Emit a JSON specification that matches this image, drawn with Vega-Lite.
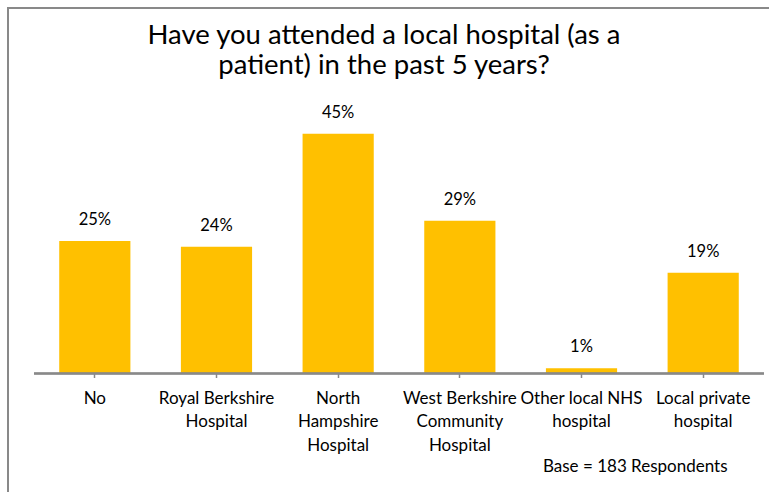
{
  "$schema": "https://vega.github.io/schema/vega-lite/v6.json",
  "width": 782,
  "height": 486,
  "autosize": {"type": "none"},
  "padding": {"left": 8, "top": 8, "right": 0, "bottom": 0},
  "background": "white",
  "config": {"view": {"stroke": "#898989", "strokeWidth": 2}, "font": "Lato"},
  "title": {
    "text": ["Have you attended a local hospital (as a", "patient) in the past 5 years?"],
    "fontSize": 27.5,
    "font": "Lato",
    "fontWeight": "normal",
    "color": "#000000",
    "anchor": "middle",
    "dx": -15,
    "offset": -71,
    "lineHeight": 30
  },
  "data": {
    "values": [
      {"hospital": "No", "pct": 24.9, "label": "25%"},
      {"hospital": "Royal Berkshire|Hospital", "pct": 23.8, "label": "24%"},
      {"hospital": "North|Hampshire|Hospital", "pct": 45, "label": "45%"},
      {"hospital": "West Berkshire|Community|Hospital", "pct": 28.7, "label": "29%"},
      {"hospital": "Other local NHS|hospital", "pct": 1, "label": "1%"},
      {"hospital": "Local private|hospital", "pct": 18.9, "label": "19%"}
    ]
  },
  "encoding": {
    "x": {
      "field": "hospital",
      "type": "nominal",
      "sort": null,
      "scale": {"paddingInner": 0.415, "paddingOuter": 0.421},
      "axis": {
        "orient": "bottom",
        "offset": -120.5,
        "domain": false,
        "ticks": true,
        "tickColor": "#898989",
        "tickSize": 4,
        "tickWidth": 1.5,
        "labelAngle": 0,
        "labelFontSize": 17,
        "labelFont": "Lato",
        "labelColor": "#000000",
        "labelBaseline": "top",
        "labelPadding": 12.5,
        "labelLineHeight": 23.5,
        "labelLimit": 0,
        "labelOverlap": false,
        "labelBound": false,
        "labelExpr": "split(datum.label, '|')",
        "title": "Base = 183 Respondents",
        "titleFontSize": 17,
        "titleFont": "Lato",
        "titleFontWeight": "normal",
        "titleColor": "#000000",
        "titleAnchor": "end",
        "titleAlign": "right",
        "titleBaseline": "alphabetic",
        "titleX": 719,
        "titleY": 98
      }
    },
    "y": {
      "field": "pct",
      "type": "quantitative",
      "scale": {"domain": [-22.6, 68.6], "nice": false, "zero": false},
      "axis": null
    }
  },
  "layer": [
    {"mark": {"type": "bar", "color": "#FFC000"}},
    {
      "mark": {"type": "text", "dy": -16, "baseline": "alphabetic", "fontSize": 16.5, "font": "Lato", "color": "#000000"},
      "encoding": {"text": {"field": "label"}}
    },
    {
      "mark": {"type": "rule", "color": "#898989", "strokeWidth": 1.5},
      "encoding": {
        "x": {"datum": "No", "bandPosition": -0.354},
        "x2": {"datum": "Local private|hospital", "bandPosition": 1.354},
        "y": {"datum": 0}
      }
    }
  ]
}
